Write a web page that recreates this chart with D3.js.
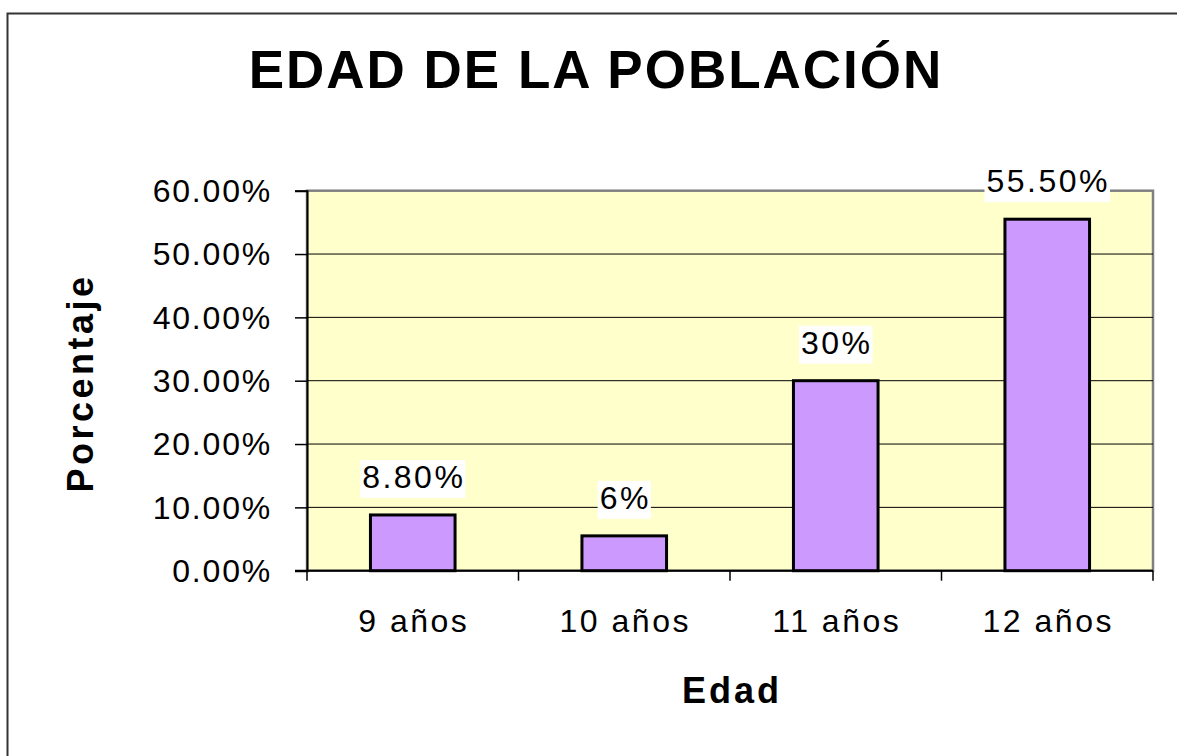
<!DOCTYPE html>
<html>
<head>
<meta charset="utf-8">
<script src="https://cdn.jsdelivr.net/npm/d3@7"></script>
<style>
  body { margin: 0; background: #fff; }
  text { font-family: Arial, "Liberation Sans", sans-serif; fill: #000; }
</style>
</head>
<body>
<svg width="1177" height="756"></svg>
<script>
// chart data
var categories = ["9 años", "10 años", "11 años", "12 años"];
var values = [0.088, 0.055, 0.30, 0.555];
var valueLabels = ["8.80%", "6%", "30%", "55.50%"];
var yTicks = [0, 0.1, 0.2, 0.3, 0.4, 0.5, 0.6];

var svg = d3.select("svg");

var plot = {left: 307, right: 1153, top: 190.7, bottom: 570.7};

// outer frame (runs off the right / bottom edge)
svg.append("rect")
   .attr("x", 7.5).attr("y", 13.5)
   .attr("width", 1300).attr("height", 900)
   .attr("fill", "none")
   .attr("stroke", "#333")
   .attr("stroke-width", 2);

var x = d3.scaleBand()
          .domain(categories)
          .range([plot.left, plot.right])
          .padding(0);

var y = d3.scaleLinear()
          .domain([0, 0.6])
          .range([plot.bottom, plot.top]);

// plot background
svg.append("rect")
   .attr("x", plot.left).attr("y", plot.top)
   .attr("width", plot.right - plot.left)
   .attr("height", plot.bottom - plot.top)
   .attr("fill", "#ffffcc")
   .attr("stroke", "#808080")
   .attr("stroke-width", 2.5);

// gridlines
svg.append("g")
   .selectAll("line")
   .data(yTicks.filter(function(d) { return d > 0 && d < 0.6; }))
   .enter()
   .append("line")
   .attr("x1", plot.left).attr("x2", plot.right)
   .attr("y1", function(d) { return y(d); })
   .attr("y2", function(d) { return y(d); })
   .attr("stroke", "#000")
   .attr("stroke-width", 1);

// y axis
var yAxis = svg.append("g")
   .attr("transform", "translate(" + plot.left + ",0)")
   .call(d3.axisLeft(y)
           .tickValues(yTicks)
           .tickFormat(d3.format(".2%"))
           .tickSize(12)
           .tickPadding(23));
yAxis.select(".domain").attr("stroke", "#000").attr("stroke-width", 2);
yAxis.selectAll(".tick line").attr("stroke", "#000").attr("stroke-width", 1.5);
yAxis.selectAll(".tick text")
     .attr("font-size", 32)
     .attr("letter-spacing", 1.8)
     .attr("dy", "0.34em")
     .attr("font-family", "Arial, 'Liberation Sans', sans-serif")
     .attr("fill", "#000");

// x axis line + boundary ticks
var xAxis = svg.append("g");
xAxis.append("line")
     .attr("x1", plot.left - 12).attr("x2", plot.right)
     .attr("y1", plot.bottom).attr("y2", plot.bottom)
     .attr("stroke", "#000").attr("stroke-width", 2);
var bounds = categories.map(function(c) { return x(c); }).concat([x.range()[1]]);
xAxis.selectAll("line.tick")
     .data(bounds)
     .enter()
     .append("line")
     .attr("class", "tick")
     .attr("x1", function(d) { return d; })
     .attr("x2", function(d) { return d; })
     .attr("y1", plot.bottom).attr("y2", plot.bottom + 10)
     .attr("stroke", "#000").attr("stroke-width", 1.5);
xAxis.selectAll("text")
     .data(categories)
     .enter()
     .append("text")
     .attr("x", function(d) { return x(d) + x.bandwidth() / 2 + 1; })
     .attr("y", 632)
     .attr("text-anchor", "middle")
     .attr("font-size", 32)
     .attr("letter-spacing", 2.5)
     .text(function(d) { return d; });

// bars
var barW = x.bandwidth() * 0.4;
svg.append("g")
   .selectAll("rect")
   .data(values)
   .enter()
   .append("rect")
   .attr("x", function(d, i) { return x(categories[i]) + (x.bandwidth() - barW) / 2; })
   .attr("y", function(d) { return y(d); })
   .attr("width", barW)
   .attr("height", function(d) { return plot.bottom - y(d); })
   .attr("fill", "#cc99ff")
   .attr("stroke", "#000")
   .attr("stroke-width", 3);

// value labels with white background
var lbl = svg.append("g")
   .selectAll("g")
   .data(values)
   .enter()
   .append("g");
lbl.append("text")
   .attr("x", function(d, i) { return x(categories[i]) + x.bandwidth() / 2 + 1; })
   .attr("y", function(d) { return y(d) - 27; })
   .attr("text-anchor", "middle")
   .attr("font-size", 32)
   .attr("letter-spacing", 2.5)
   .text(function(d, i) { return valueLabels[i]; });
lbl.each(function() {
  var g = d3.select(this);
  var b = g.select("text").node().getBBox();
  g.insert("rect", "text")
   .attr("x", b.x - 2).attr("y", b.y + 1)
   .attr("width", b.width + 2).attr("height", b.height + 2)
   .attr("fill", "#fff");
});

// title
svg.append("text")
   .attr("x", 596)
   .attr("y", 88)
   .attr("text-anchor", "middle")
   .attr("font-size", 53)
   .attr("font-weight", "bold")
   .attr("letter-spacing", 2)
   .text("EDAD DE LA POBLACIÓN");

// axis titles
svg.append("text")
   .attr("x", 732)
   .attr("y", 703)
   .attr("text-anchor", "middle")
   .attr("font-size", 36)
   .attr("font-weight", "bold")
   .attr("letter-spacing", 3)
   .text("Edad");

svg.append("text")
   .attr("transform", "translate(93," + (381 + 2) + ") rotate(-90)")
   .attr("text-anchor", "middle")
   .attr("font-size", 36)
   .attr("font-weight", "bold")
   .attr("letter-spacing", 3.5)
   .text("Porcentaje");
</script>
</body>
</html>
